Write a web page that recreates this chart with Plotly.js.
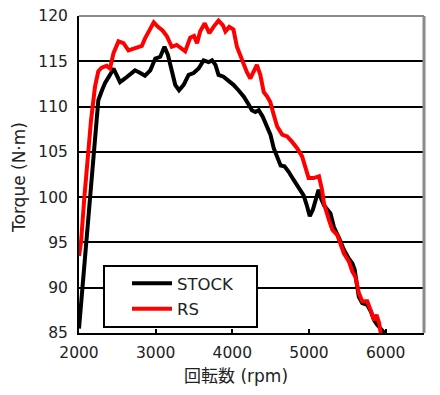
<!DOCTYPE html>
<html><head><meta charset="utf-8">
<script src="https://cdn.plot.ly/plotly-3.0.1.min.js"></script>
<style>html,body{margin:0;padding:0;background:#fff;}#chart{width:440px;height:395px;}</style>
</head><body><div id="chart"></div>
<script>
const seriesNames = ["STOCK", "RS"];
const stockRpm = [2000,2045,2090,2144,2190,2222,2252,2300,2340,2405,2450,2490,2535,2600,2665,2730,2800,2860,2930,2995,3060,3115,3160,3210,3255,3305,3365,3430,3495,3560,3625,3690,3735,3780,3820,3885,3950,4015,4080,4150,4215,4255,4300,4345,4395,4440,4497,4540,4585,4630,4680,4735,4800,4865,4930,4975,5010,5050,5090,5125,5160,5195,5280,5325,5390,5455,5520,5565,5595,5620,5650,5695,5760,5805,5850,5890,5985];
const stockTorque = [85.5,90,95,100,105,108.5,110.7,111.8,112.6,113.5,114.2,113.5,112.7,113.1,113.5,114.0,113.7,113.4,114.0,115.3,115.5,116.6,115.7,113.7,112.4,111.8,112.4,113.5,113.7,114.2,115.1,114.9,115.1,114.6,113.5,113.3,112.9,112.4,111.8,111.1,110.2,109.6,109.4,109.6,108.9,108.0,106.9,105.4,104.5,103.5,103.4,102.8,101.9,101.0,100.2,99.0,97.9,98.6,100.0,100.8,99.8,99.1,98.2,96.7,95.5,94.2,93.2,92.7,92.0,90.9,89.0,88.3,88.1,87.4,86.4,85.9,85.0];
const rsRpm = [2000,2026,2070,2120,2157,2209,2252,2296,2360,2405,2450,2515,2580,2645,2730,2820,2860,2930,2975,3030,3090,3145,3210,3275,3340,3385,3450,3500,3540,3580,3640,3700,3755,3820,3875,3910,3960,4015,4060,4125,4190,4235,4280,4320,4365,4410,4455,4495,4540,4585,4650,4715,4780,4845,4910,4955,4995,5060,5130,5170,5195,5260,5305,5370,5410,5455,5520,5565,5605,5650,5695,5760,5805,5850,5880,5915,5935];
const rsTorque = [93.5,95,100,105,108.5,112.2,113.9,114.3,114.5,114.2,115.9,117.2,117.0,116.2,116.4,116.7,117.5,118.5,119.3,118.8,118.4,117.8,116.6,116.8,116.4,116.1,117.6,117.8,117.0,118.3,119.2,118.1,118.8,119.5,119.0,118.3,118.8,118.5,116.6,115.1,113.8,113.1,113.8,114.6,113.5,111.6,111.1,110.5,109.1,107.8,106.9,106.7,106.1,105.4,104.5,103.0,102.1,102.1,102.3,100.8,99.3,97.5,96.4,95.8,94.7,93.8,92.9,91.8,91.2,89.4,88.5,88.5,87.5,86.4,87.0,86.1,85.0];
const xTicks = [2000,3000,4000,5000,6000];
const yTicks = [85,90,95,100,105,110,115,120];
const xTitle = "回転数 (rpm)";
const yTitle = "Torque (N·m)";

const FONT = "DejaVu Sans, Noto Sans CJK JP, sans-serif";
const TXT = "#222222";
const traces = [
  {x: stockRpm, y: stockTorque, name: seriesNames[0], legendgroup: "a", type: "scatter", mode: "lines",
   line: {color: "#000000", width: 4}},
  {x: rsRpm, y: rsTorque, name: seriesNames[1], legendgroup: "b", type: "scatter", mode: "lines",
   line: {color: "#ff0000", width: 4}}
];
const L = 79, R = 424, T = 16, B = 333, W = R - L, H = B - T;
const layout = {
  width: 440, height: 395,
  margin: {l: L, r: 440 - R, t: T, b: 395 - B, pad: 0},
  paper_bgcolor: "#ffffff", plot_bgcolor: "#ffffff",
  font: {family: FONT, size: 15.5, color: TXT},
  showlegend: true,
  legend: {x: (127 - L) / W, y: (B - 266) / H, xanchor: "left", yanchor: "top",
    bgcolor: "rgba(0,0,0,0)", borderwidth: 0, itemwidth: 40, tracegroupgap: 1,
    font: {family: FONT, size: 16.5, color: TXT}},
  xaxis: {range: [2000, 6500], tickvals: xTicks, ticktext: xTicks.map(String),
    showgrid: false, zeroline: false, showline: true, linecolor: "#000000", linewidth: 2,
    ticks: "inside", ticklen: 4, tickwidth: 2, tickcolor: "#000000",
    ticklabelstandoff: 4},
  yaxis: {range: [85, 120], tickvals: yTicks, ticktext: yTicks.map(String),
    showgrid: true, gridcolor: "#000000", gridwidth: 2, zeroline: false,
    showline: true, linecolor: "#000000", linewidth: 2, ticks: "",
    ticklabelstandoff: 6},
  annotations: [
    {text: xTitle, xref: "paper", yref: "paper", x: (236 - L) / W, y: (B - 376) / H,
     xanchor: "center", yanchor: "middle", showarrow: false,
     font: {family: FONT, size: 17, color: TXT}},
    {text: yTitle, xref: "paper", yref: "paper", x: (19 - L) / W, y: (B - 178) / H,
     xanchor: "center", yanchor: "middle", showarrow: false, textangle: -90,
     font: {family: FONT, size: 17, color: TXT}}
  ],
  shapes: [
    {type: "line", xref: "paper", yref: "paper", x0: 0, x1: 1, y0: 1, y1: 1,
     line: {color: "#8a8a8a", width: 2}, layer: "above"},
    {type: "line", xref: "paper", yref: "paper", x0: 1, x1: 1, y0: 0, y1: 1,
     line: {color: "#8a8a8a", width: 3}, layer: "above"},
    {type: "rect", xref: "paper", yref: "paper",
     x0: (104 - L) / W, x1: (257 - L) / W, y0: (B - 327) / H, y1: (B - 266) / H,
     fillcolor: "#ffffff", line: {color: "#000000", width: 2}, layer: "above"}
  ]
};
Plotly.newPlot("chart", traces, layout, {displayModeBar: false, staticPlot: true});
</script></body></html>
